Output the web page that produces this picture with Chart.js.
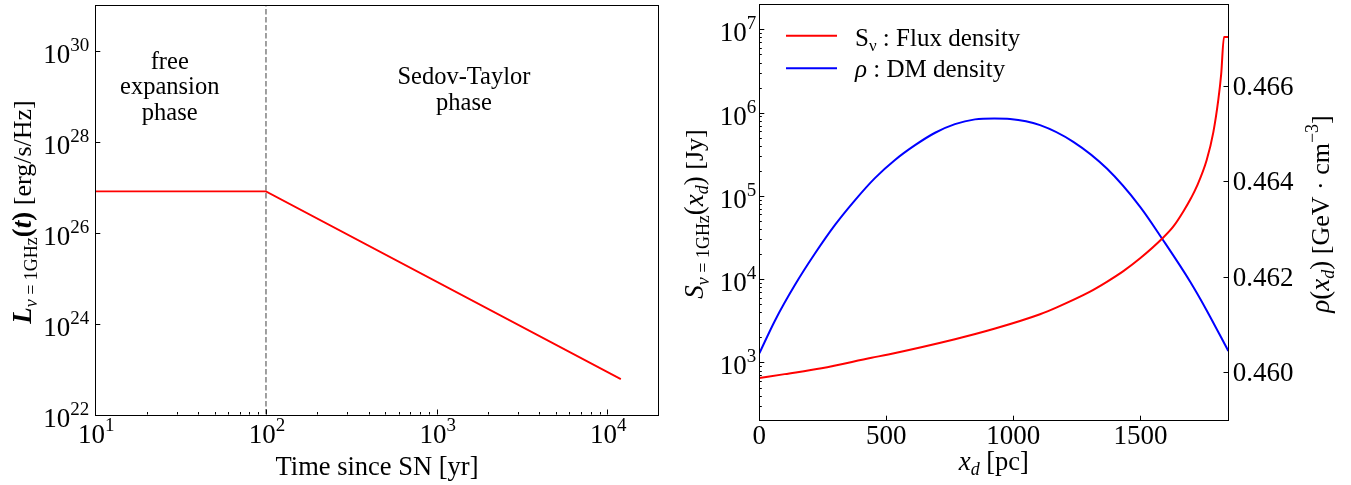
<!DOCTYPE html>
<html>
<head>
<meta charset="utf-8">
<title>SNR radio luminosity and flux density</title>
<script src="https://cdn.jsdelivr.net/npm/chart.js@4.4.0/dist/chart.umd.min.js"></script>
<style>
  html, body { margin: 0; padding: 0; background: #fff; }
  #wrap { position: relative; width: 1351px; height: 485px; overflow: hidden; }
  canvas { position: absolute; top: 0; }
</style>
</head>
<body>
<div id="wrap">
  <canvas id="lumChart" width="680" height="485" style="left:0"></canvas>
  <canvas id="fluxChart" width="671" height="485" style="left:680px"></canvas>
</div>
<script>
// Left panel: 1 GHz luminosity against time since the supernova
const lumTime = [10, 100, 12000];
const lumValue = [8e26, 8e26, 6e22];
const phaseBoundary = 100;
const lumXTicks = [10, 100, 1000, 10000];
const lumYTicks = [1e22, 1e24, 1e26, 1e28, 1e30];

// Right panel: flux density (left axis) and DM density (right axis) vs distance
const fluxX = [0, 100, 245, 442, 508, 770, 928, 1105, 1171, 1302, 1368, 1433, 1499,
               1587, 1630, 1669, 1700, 1722, 1761, 1787, 1807, 1818, 1829, 1846];
const fluxValue = [650, 725, 853, 1140, 1250, 1905, 2560, 3800, 4600, 7100, 9300, 12500, 17800,
                   31000, 43000, 65000, 95000, 130000, 270000, 580000, 1.45e6, 2.9e6, 8.1e6, 8.1e6];
const rhoX = [0, 62, 140, 219, 298, 377, 455, 534, 613, 692, 770, 849, 925, 987,
              1105, 1236, 1368, 1499, 1587, 1696, 1761, 1846];
const rhoValue = [0.46040, 0.46109, 0.46183, 0.46249, 0.46309, 0.46361, 0.46407, 0.46445,
                  0.46476, 0.46502, 0.46520, 0.46530, 0.46532, 0.46531, 0.46518, 0.46483,
                  0.46427, 0.46347, 0.46279, 0.46190, 0.46130, 0.46045];
const fluxXTicks = [0, 500, 1000, 1500];
const fluxYTicks = [1e3, 1e4, 1e5, 1e6, 1e7];
const rhoTicks = [0.460, 0.462, 0.464, 0.466];

const serif = (size, style) => (style ? style + ' ' : '') + size + 'px "Liberation Serif", "Times New Roman", serif';

// draw a run of differently styled text pieces on one baseline
function drawRich(ctx, parts, x, y, align) {
    let w = 0;
    parts.forEach(p => { ctx.font = p.font; p.w = ctx.measureText(p.text).width; w += p.w; });
    let cx = align === 'center' ? x - w / 2 : align === 'right' ? x - w : x;
    ctx.textAlign = 'left';
    ctx.textBaseline = 'alphabetic';
    parts.forEach(p => {
        ctx.font = p.font;
        ctx.fillText(p.text, cx, y + (p.dy || 0));
        cx += p.w;
    });
}

// "10" with a raised exponent
function drawPow(ctx, value, x, y, align) {
    const exp = Math.round(Math.log10(value));
    drawRich(ctx, [
        { text: '10', font: serif(27) },
        { text: String(exp), font: serif(19), dy: -12 }
    ], x, y, align);
}

function logMinors(min, max) {
    const out = [];
    for (let d = Math.floor(Math.log10(min)); d <= Math.ceil(Math.log10(max)); d++) {
        for (let m = 2; m <= 9; m++) {
            const v = m * Math.pow(10, d);
            if (v > min && v < max) out.push(v);
        }
    }
    return out;
}

// inward ticks, matplotlib style
function ticksBottom(ctx, scale, values, len, bottom) {
    values.forEach(v => {
        const px = Math.round(scale.getPixelForValue(v)) + 0.5;
        ctx.beginPath();
        ctx.moveTo(px, bottom);
        ctx.lineTo(px, bottom - len);
        ctx.stroke();
    });
}

function ticksSide(ctx, scale, values, len, edge, dir) {
    values.forEach(v => {
        const py = Math.round(scale.getPixelForValue(v)) + 0.5;
        ctx.beginPath();
        ctx.moveTo(edge, py);
        ctx.lineTo(edge + dir * len, py);
        ctx.stroke();
    });
}

function drawFrame(ctx, a) {
    ctx.strokeStyle = '#000';
    ctx.lineWidth = 1;
    ctx.strokeRect(Math.round(a.left) + 0.5, Math.round(a.top) + 0.5,
                   Math.round(a.right - a.left), Math.round(a.bottom - a.top));
}

const lumDecor = {
    id: 'lumDecor',
    afterDraw(chart) {
        const ctx = chart.ctx, a = chart.chartArea;
        const xs = chart.scales.x, ys = chart.scales.y;
        ctx.save();
        drawFrame(ctx, a);
        ticksBottom(ctx, xs, lumXTicks, 5, a.bottom);
        ticksBottom(ctx, xs, logMinors(xs.min, xs.max), 2.5, a.bottom);
        ticksSide(ctx, ys, lumYTicks, 5, a.left, 1);

        ctx.fillStyle = '#000';
        lumXTicks.forEach(v => drawPow(ctx, v, xs.getPixelForValue(v) + 1, 443, 'center'));
        lumYTicks.forEach(v => drawPow(ctx, v, a.left - 6, ys.getPixelForValue(v) + 12, 'right'));

        // axis titles
        ctx.font = serif(26.5);
        ctx.textAlign = 'center';
        ctx.fillText('Time since SN [yr]', (a.left + a.right) / 2, 475);

        ctx.save();
        ctx.translate(31, 212);
        ctx.rotate(-Math.PI / 2);
        drawRich(ctx, [
            { text: 'L', font: serif(27, 'italic bold') },
            { text: 'ν', font: serif(18, 'italic'), dy: 6 },
            { text: ' = 1GHz', font: serif(18), dy: 6 },
            { text: '(', font: serif(27, 'bold') },
            { text: 't', font: serif(27, 'italic bold') },
            { text: ')', font: serif(27, 'bold') },
            { text: ' [erg/s/Hz]', font: serif(26) }
        ], 0, 0, 'center');
        ctx.restore();

        // phase annotations
        ctx.font = serif(24.5);
        ctx.textAlign = 'center';
        const fx = xs.getPixelForValue(27.3), fy = ys.getPixelForValue(4e29);
        ['free', 'expansion', 'phase'].forEach((t, i) => ctx.fillText(t, fx, fy + i * 25.5));
        const sx = xs.getPixelForValue(1445), sy = ys.getPixelForValue(1.8e29);
        ['Sedov-Taylor', 'phase'].forEach((t, i) => ctx.fillText(t, sx, sy + i * 25.8));
        ctx.restore();
    }
};

const fluxDecor = {
    id: 'fluxDecor',
    afterDraw(chart) {
        const ctx = chart.ctx, a = chart.chartArea;
        const xs = chart.scales.x, ys = chart.scales.y, y2 = chart.scales.y2;
        ctx.save();
        drawFrame(ctx, a);
        ticksBottom(ctx, xs, fluxXTicks, 5, a.bottom);
        ticksSide(ctx, ys, fluxYTicks, 5, a.left, 1);
        ticksSide(ctx, ys, logMinors(ys.min, ys.max), 2.5, a.left, 1);
        ticksSide(ctx, y2, rhoTicks, 5, Math.round(a.right) + 0.5, -1);

        ctx.fillStyle = '#000';
        ctx.font = serif(27);
        ctx.textAlign = 'center';
        ctx.textBaseline = 'alphabetic';
        fluxXTicks.forEach(v => ctx.fillText(String(v), xs.getPixelForValue(v), 444));
        fluxYTicks.forEach(v => drawPow(ctx, v, a.left - 3, ys.getPixelForValue(v) + 12, 'right'));
        ctx.font = serif(27);
        ctx.textAlign = 'left';
        rhoTicks.forEach(v => ctx.fillText(v.toFixed(3), a.right + 4.5, y2.getPixelForValue(v) + 9));

        // axis titles
        drawRich(ctx, [
            { text: 'x', font: serif(27, 'italic') },
            { text: 'd', font: serif(18, 'italic'), dy: 5 },
            { text: ' [pc]', font: serif(26.5) }
        ], (a.left + a.right) / 2, 470, 'center');

        ctx.save();
        ctx.translate(23, 214);
        ctx.rotate(-Math.PI / 2);
        drawRich(ctx, [
            { text: 'S', font: serif(27, 'italic') },
            { text: 'ν', font: serif(18, 'italic'), dy: 6 },
            { text: ' = 1GHz', font: serif(18), dy: 6 },
            { text: '(', font: serif(27) },
            { text: 'x', font: serif(27, 'italic') },
            { text: 'd', font: serif(18, 'italic'), dy: 5 },
            { text: ')', font: serif(27) },
            { text: ' [Jy]', font: serif(26) }
        ], 0, 0, 'center');
        ctx.restore();

        ctx.save();
        ctx.translate(649, 214);
        ctx.rotate(-Math.PI / 2);
        drawRich(ctx, [
            { text: 'ρ', font: serif(27, 'italic') },
            { text: '(', font: serif(27) },
            { text: 'x', font: serif(27, 'italic') },
            { text: 'd', font: serif(18, 'italic'), dy: 5 },
            { text: ')', font: serif(27) },
            { text: ' [GeV · cm', font: serif(26) },
            { text: '−3', font: serif(18), dy: -11 },
            { text: ']', font: serif(26) }
        ], 0, 0, 'center');
        ctx.restore();

        // legend
        const rows = [
            { color: chart.data.datasets[0].borderColor, y: 35.7, base: 45.5,
              parts: [{ text: 'S', font: serif(25) }, { text: 'ν', font: serif(17), dy: 5 },
                      { text: ' : Flux density', font: serif(25) }] },
            { color: chart.data.datasets[1].borderColor, y: 68.3, base: 77.3,
              parts: [{ text: 'ρ', font: serif(25, 'italic') }, { text: ' : DM density', font: serif(25) }] }
        ];
        rows.forEach(r => {
            ctx.strokeStyle = r.color;
            ctx.lineWidth = 2;
            ctx.beginPath();
            ctx.moveTo(106, r.y);
            ctx.lineTo(157, r.y);
            ctx.stroke();
            ctx.fillStyle = '#000';
            drawRich(ctx, r.parts, 175, r.base, 'left');
        });
        ctx.restore();
    }
};

const hidden = { display: false };

new Chart(document.getElementById('lumChart'), {
    type: 'line',
    data: {
        datasets: [{
            data: lumTime.map((t, i) => ({ x: t, y: lumValue[i] })),
            borderColor: '#ff0000',
            borderWidth: 1.8,
            pointRadius: 0,
            tension: 0
        }, {
            data: [{ x: phaseBoundary, y: 1e22 }, { x: phaseBoundary, y: 1e31 }],
            borderColor: '#808080',
            borderWidth: 1.5,
            borderDash: [5.5, 2.5],
            pointRadius: 0
        }]
    },
    options: {
        responsive: false,
        devicePixelRatio: 1,
        animation: false,
        events: [],
        layout: { padding: { top: 5, right: 21.3, left: 0, bottom: 0 } },
        plugins: { legend: hidden, tooltip: { enabled: false } },
        scales: {
            x: {
                type: 'logarithmic', min: 10, max: 2e4,
                ticks: hidden, grid: hidden, border: hidden,
                afterFit: s => { s.height = 70.5; }
            },
            y: {
                type: 'logarithmic', min: 1e22, max: 1e31,
                ticks: hidden, grid: hidden, border: hidden,
                afterFit: s => { s.width = 95.3; }
            }
        }
    },
    plugins: [lumDecor]
});

new Chart(document.getElementById('fluxChart'), {
    type: 'line',
    data: {
        datasets: [{
            label: 'Flux density',
            data: fluxX.map((x, i) => ({ x: x, y: fluxValue[i] })),
            borderColor: '#ff0000',
            borderWidth: 2,
            pointRadius: 0,
            cubicInterpolationMode: 'monotone',
            yAxisID: 'y'
        }, {
            label: 'DM density',
            data: rhoX.map((x, i) => ({ x: x, y: rhoValue[i] })),
            borderColor: '#0000ff',
            borderWidth: 2,
            pointRadius: 0,
            cubicInterpolationMode: 'monotone',
            yAxisID: 'y2'
        }]
    },
    options: {
        responsive: false,
        devicePixelRatio: 1,
        animation: false,
        events: [],
        layout: { padding: { top: 4.3, right: 0, left: 0, bottom: 0 } },
        plugins: { legend: hidden, tooltip: { enabled: false } },
        scales: {
            x: {
                type: 'linear', min: 0, max: 1846,
                ticks: hidden, grid: hidden, border: hidden,
                afterFit: s => { s.height = 64.3; }
            },
            y: {
                type: 'logarithmic', position: 'left', min: 200, max: 2e7,
                ticks: hidden, grid: hidden, border: hidden,
                afterFit: s => { s.width = 79.3; }
            },
            y2: {
                type: 'linear', position: 'right', min: 0.45899, max: 0.46771,
                ticks: hidden, grid: hidden, border: hidden,
                afterFit: s => { s.width = 122.7; }
            }
        }
    },
    plugins: [fluxDecor]
});
</script>
</body>
</html>
